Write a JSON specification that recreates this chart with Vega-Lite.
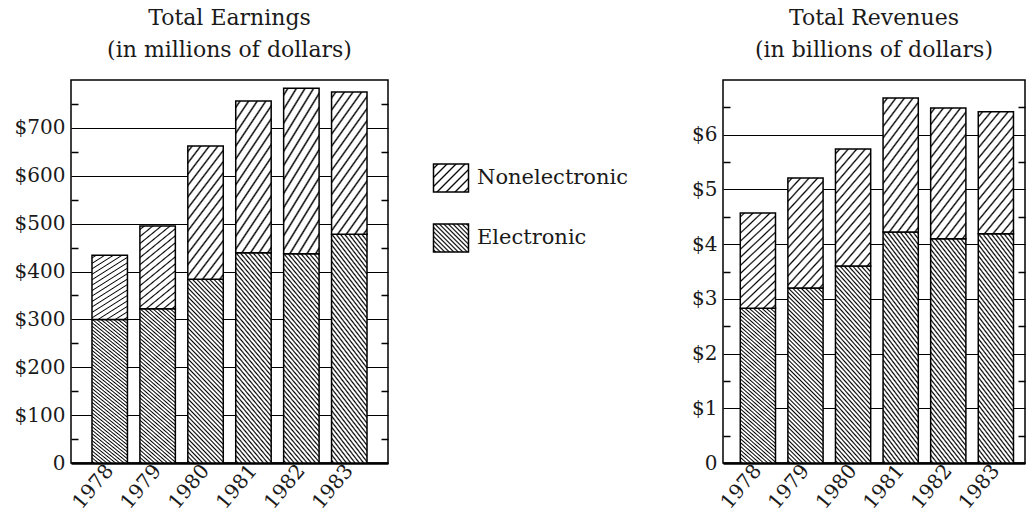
{
"$schema": "https://vega.github.io/schema/vega-lite/v6.json",
"background": "white",
"padding": {"left": 13, "top": 6, "right": 0, "bottom": 0},
"bounds": "flush",
"spacing": 335,
"params": [
{"name": "gN", "value": {"gradient": "linear", "x1": 0, "y1": 0, "x2": 0.4235, "y2": 1.21, "stops": [
{"offset":0.01875,"color":"#fff"},{"offset":0.03125,"color":"#000"},{"offset":0.04375,"color":"#fff"},
{"offset":0.08125,"color":"#fff"},{"offset":0.09375,"color":"#000"},{"offset":0.10625,"color":"#fff"},
{"offset":0.14375,"color":"#fff"},{"offset":0.15625,"color":"#000"},{"offset":0.16875,"color":"#fff"},
{"offset":0.20625,"color":"#fff"},{"offset":0.21875,"color":"#000"},{"offset":0.23125,"color":"#fff"},
{"offset":0.26875,"color":"#fff"},{"offset":0.28125,"color":"#000"},{"offset":0.29375,"color":"#fff"},
{"offset":0.33125,"color":"#fff"},{"offset":0.34375,"color":"#000"},{"offset":0.35625,"color":"#fff"},
{"offset":0.39375,"color":"#fff"},{"offset":0.40625,"color":"#000"},{"offset":0.41875,"color":"#fff"},
{"offset":0.45625,"color":"#fff"},{"offset":0.46875,"color":"#000"},{"offset":0.48125,"color":"#fff"},
{"offset":0.51875,"color":"#fff"},{"offset":0.53125,"color":"#000"},{"offset":0.54375,"color":"#fff"},
{"offset":0.58125,"color":"#fff"},{"offset":0.59375,"color":"#000"},{"offset":0.60625,"color":"#fff"},
{"offset":0.64375,"color":"#fff"},{"offset":0.65625,"color":"#000"},{"offset":0.66875,"color":"#fff"},
{"offset":0.70625,"color":"#fff"},{"offset":0.71875,"color":"#000"},{"offset":0.73125,"color":"#fff"},
{"offset":0.76875,"color":"#fff"},{"offset":0.78125,"color":"#000"},{"offset":0.79375,"color":"#fff"},
{"offset":0.83125,"color":"#fff"},{"offset":0.84375,"color":"#000"},{"offset":0.85625,"color":"#fff"},
{"offset":0.89375,"color":"#fff"},{"offset":0.90625,"color":"#000"},{"offset":0.91875,"color":"#fff"},
{"offset":0.95625,"color":"#fff"},{"offset":0.96875,"color":"#000"},{"offset":0.98125,"color":"#fff"}
]}},
{"name": "gE", "value": {"gradient": "linear", "x1": 0, "y1": 1, "x2": 0.232, "y2": -0.16, "stops": [
{"offset":0.003,"color":"#fff"},{"offset":0.01,"color":"#000"},{"offset":0.017,"color":"#fff"},
{"offset":0.023,"color":"#fff"},{"offset":0.03,"color":"#000"},{"offset":0.037,"color":"#fff"},
{"offset":0.043,"color":"#fff"},{"offset":0.05,"color":"#000"},{"offset":0.057,"color":"#fff"},
{"offset":0.063,"color":"#fff"},{"offset":0.07,"color":"#000"},{"offset":0.077,"color":"#fff"},
{"offset":0.083,"color":"#fff"},{"offset":0.09,"color":"#000"},{"offset":0.097,"color":"#fff"},
{"offset":0.103,"color":"#fff"},{"offset":0.11,"color":"#000"},{"offset":0.117,"color":"#fff"},
{"offset":0.123,"color":"#fff"},{"offset":0.13,"color":"#000"},{"offset":0.137,"color":"#fff"},
{"offset":0.143,"color":"#fff"},{"offset":0.15,"color":"#000"},{"offset":0.157,"color":"#fff"},
{"offset":0.163,"color":"#fff"},{"offset":0.17,"color":"#000"},{"offset":0.177,"color":"#fff"},
{"offset":0.183,"color":"#fff"},{"offset":0.19,"color":"#000"},{"offset":0.197,"color":"#fff"},
{"offset":0.203,"color":"#fff"},{"offset":0.21,"color":"#000"},{"offset":0.217,"color":"#fff"},
{"offset":0.223,"color":"#fff"},{"offset":0.23,"color":"#000"},{"offset":0.237,"color":"#fff"},
{"offset":0.243,"color":"#fff"},{"offset":0.25,"color":"#000"},{"offset":0.257,"color":"#fff"},
{"offset":0.263,"color":"#fff"},{"offset":0.27,"color":"#000"},{"offset":0.277,"color":"#fff"},
{"offset":0.283,"color":"#fff"},{"offset":0.29,"color":"#000"},{"offset":0.297,"color":"#fff"},
{"offset":0.303,"color":"#fff"},{"offset":0.31,"color":"#000"},{"offset":0.317,"color":"#fff"},
{"offset":0.323,"color":"#fff"},{"offset":0.33,"color":"#000"},{"offset":0.337,"color":"#fff"},
{"offset":0.343,"color":"#fff"},{"offset":0.35,"color":"#000"},{"offset":0.357,"color":"#fff"},
{"offset":0.363,"color":"#fff"},{"offset":0.37,"color":"#000"},{"offset":0.377,"color":"#fff"},
{"offset":0.383,"color":"#fff"},{"offset":0.39,"color":"#000"},{"offset":0.397,"color":"#fff"},
{"offset":0.403,"color":"#fff"},{"offset":0.41,"color":"#000"},{"offset":0.417,"color":"#fff"},
{"offset":0.423,"color":"#fff"},{"offset":0.43,"color":"#000"},{"offset":0.437,"color":"#fff"},
{"offset":0.443,"color":"#fff"},{"offset":0.45,"color":"#000"},{"offset":0.457,"color":"#fff"},
{"offset":0.463,"color":"#fff"},{"offset":0.47,"color":"#000"},{"offset":0.477,"color":"#fff"},
{"offset":0.483,"color":"#fff"},{"offset":0.49,"color":"#000"},{"offset":0.497,"color":"#fff"},
{"offset":0.503,"color":"#fff"},{"offset":0.51,"color":"#000"},{"offset":0.517,"color":"#fff"},
{"offset":0.523,"color":"#fff"},{"offset":0.53,"color":"#000"},{"offset":0.537,"color":"#fff"},
{"offset":0.543,"color":"#fff"},{"offset":0.55,"color":"#000"},{"offset":0.557,"color":"#fff"},
{"offset":0.563,"color":"#fff"},{"offset":0.57,"color":"#000"},{"offset":0.577,"color":"#fff"},
{"offset":0.583,"color":"#fff"},{"offset":0.59,"color":"#000"},{"offset":0.597,"color":"#fff"},
{"offset":0.603,"color":"#fff"},{"offset":0.61,"color":"#000"},{"offset":0.617,"color":"#fff"},
{"offset":0.623,"color":"#fff"},{"offset":0.63,"color":"#000"},{"offset":0.637,"color":"#fff"},
{"offset":0.643,"color":"#fff"},{"offset":0.65,"color":"#000"},{"offset":0.657,"color":"#fff"},
{"offset":0.663,"color":"#fff"},{"offset":0.67,"color":"#000"},{"offset":0.677,"color":"#fff"},
{"offset":0.683,"color":"#fff"},{"offset":0.69,"color":"#000"},{"offset":0.697,"color":"#fff"},
{"offset":0.703,"color":"#fff"},{"offset":0.71,"color":"#000"},{"offset":0.717,"color":"#fff"},
{"offset":0.723,"color":"#fff"},{"offset":0.73,"color":"#000"},{"offset":0.737,"color":"#fff"},
{"offset":0.743,"color":"#fff"},{"offset":0.75,"color":"#000"},{"offset":0.757,"color":"#fff"},
{"offset":0.763,"color":"#fff"},{"offset":0.77,"color":"#000"},{"offset":0.777,"color":"#fff"},
{"offset":0.783,"color":"#fff"},{"offset":0.79,"color":"#000"},{"offset":0.797,"color":"#fff"},
{"offset":0.803,"color":"#fff"},{"offset":0.81,"color":"#000"},{"offset":0.817,"color":"#fff"},
{"offset":0.823,"color":"#fff"},{"offset":0.83,"color":"#000"},{"offset":0.837,"color":"#fff"},
{"offset":0.843,"color":"#fff"},{"offset":0.85,"color":"#000"},{"offset":0.857,"color":"#fff"},
{"offset":0.863,"color":"#fff"},{"offset":0.87,"color":"#000"},{"offset":0.877,"color":"#fff"},
{"offset":0.883,"color":"#fff"},{"offset":0.89,"color":"#000"},{"offset":0.897,"color":"#fff"},
{"offset":0.903,"color":"#fff"},{"offset":0.91,"color":"#000"},{"offset":0.917,"color":"#fff"},
{"offset":0.923,"color":"#fff"},{"offset":0.93,"color":"#000"},{"offset":0.937,"color":"#fff"},
{"offset":0.943,"color":"#fff"},{"offset":0.95,"color":"#000"},{"offset":0.957,"color":"#fff"},
{"offset":0.963,"color":"#fff"},{"offset":0.97,"color":"#000"},{"offset":0.977,"color":"#fff"},
{"offset":0.983,"color":"#fff"},{"offset":0.99,"color":"#000"},{"offset":0.997,"color":"#fff"}
]}},
{"name": "gLN", "value": {"gradient": "linear", "x1": 0, "y1": 0, "x2": 1.1, "y2": 0.88, "stops": [
{"offset":0.04286,"color":"#fff"},{"offset":0.07143,"color":"#000"},{"offset":0.1,"color":"#fff"},
{"offset":0.18571,"color":"#fff"},{"offset":0.21429,"color":"#000"},{"offset":0.24286,"color":"#fff"},
{"offset":0.32857,"color":"#fff"},{"offset":0.35714,"color":"#000"},{"offset":0.38571,"color":"#fff"},
{"offset":0.47143,"color":"#fff"},{"offset":0.5,"color":"#000"},{"offset":0.52857,"color":"#fff"},
{"offset":0.61429,"color":"#fff"},{"offset":0.64286,"color":"#000"},{"offset":0.67143,"color":"#fff"},
{"offset":0.75714,"color":"#fff"},{"offset":0.78571,"color":"#000"},{"offset":0.81429,"color":"#fff"},
{"offset":0.9,"color":"#fff"},{"offset":0.92857,"color":"#000"},{"offset":0.95714,"color":"#fff"}
]}},
{"name": "gLE", "value": {"gradient": "linear", "x1": 0, "y1": 1, "x2": 1.1, "y2": 0.12, "stops": [
{"offset":0.01071,"color":"#fff"},{"offset":0.03571,"color":"#000"},{"offset":0.06071,"color":"#fff"},
{"offset":0.08214,"color":"#fff"},{"offset":0.10714,"color":"#000"},{"offset":0.13214,"color":"#fff"},
{"offset":0.15357,"color":"#fff"},{"offset":0.17857,"color":"#000"},{"offset":0.20357,"color":"#fff"},
{"offset":0.225,"color":"#fff"},{"offset":0.25,"color":"#000"},{"offset":0.275,"color":"#fff"},
{"offset":0.29643,"color":"#fff"},{"offset":0.32143,"color":"#000"},{"offset":0.34643,"color":"#fff"},
{"offset":0.36786,"color":"#fff"},{"offset":0.39286,"color":"#000"},{"offset":0.41786,"color":"#fff"},
{"offset":0.43929,"color":"#fff"},{"offset":0.46429,"color":"#000"},{"offset":0.48929,"color":"#fff"},
{"offset":0.51071,"color":"#fff"},{"offset":0.53571,"color":"#000"},{"offset":0.56071,"color":"#fff"},
{"offset":0.58214,"color":"#fff"},{"offset":0.60714,"color":"#000"},{"offset":0.63214,"color":"#fff"},
{"offset":0.65357,"color":"#fff"},{"offset":0.67857,"color":"#000"},{"offset":0.70357,"color":"#fff"},
{"offset":0.725,"color":"#fff"},{"offset":0.75,"color":"#000"},{"offset":0.775,"color":"#fff"},
{"offset":0.79643,"color":"#fff"},{"offset":0.82143,"color":"#000"},{"offset":0.84643,"color":"#fff"},
{"offset":0.86786,"color":"#fff"},{"offset":0.89286,"color":"#000"},{"offset":0.91786,"color":"#fff"},
{"offset":0.93929,"color":"#fff"},{"offset":0.96429,"color":"#000"},{"offset":0.98929,"color":"#fff"}
]}}
],
"datasets": {
"earnings": [
{"year": "1978", "type": "Electronic", "value": 300},
{"year": "1978", "type": "Nonelectronic", "value": 134},
{"year": "1979", "type": "Electronic", "value": 322},
{"year": "1979", "type": "Nonelectronic", "value": 173},
{"year": "1980", "type": "Electronic", "value": 384},
{"year": "1980", "type": "Nonelectronic", "value": 278},
{"year": "1981", "type": "Electronic", "value": 439},
{"year": "1981", "type": "Nonelectronic", "value": 317},
{"year": "1982", "type": "Electronic", "value": 437},
{"year": "1982", "type": "Nonelectronic", "value": 346},
{"year": "1983", "type": "Electronic", "value": 478},
{"year": "1983", "type": "Nonelectronic", "value": 297}
],
"revenues": [
{"year": "1978", "type": "Electronic", "value": 2.83},
{"year": "1978", "type": "Nonelectronic", "value": 1.74},
{"year": "1979", "type": "Electronic", "value": 3.2},
{"year": "1979", "type": "Nonelectronic", "value": 2.01},
{"year": "1980", "type": "Electronic", "value": 3.6},
{"year": "1980", "type": "Nonelectronic", "value": 2.14},
{"year": "1981", "type": "Electronic", "value": 4.22},
{"year": "1981", "type": "Nonelectronic", "value": 2.45},
{"year": "1982", "type": "Electronic", "value": 4.1},
{"year": "1982", "type": "Nonelectronic", "value": 2.39},
{"year": "1983", "type": "Electronic", "value": 4.19},
{"year": "1983", "type": "Nonelectronic", "value": 2.23}
]
},
"config": {
"font": "DejaVu Serif",
"view": {"stroke": "#000", "strokeWidth": 1.5},
"title": {"font": "DejaVu Serif", "fontSize": 22, "fontWeight": "normal", "color": "#1a1a1a", "lineHeight": 32, "offset": 18, "anchor": "middle"},
"axisX": {"title": null, "labelAngle": -50, "labelFont": "DejaVu Serif", "labelFontSize": 20, "labelColor": "#1a1a1a", "ticks": false, "domainColor": "#000", "domainWidth": 2.5, "labelPadding": 4, "grid": false},
"axisY": {"title": null, "labelFont": "DejaVu Serif", "labelFontSize": 20, "labelColor": "#1a1a1a", "domain": false, "tickColor": "#000", "tickWidth": 1.5, "gridColor": "#000", "gridWidth": 1.2}
},
"resolve": {"scale": {"x": "independent", "y": "independent", "color": "independent"}, "legend": {"color": "independent"}},
"hconcat": [
{
"width": 317, "height": 383,
"title": {"text": ["Total Earnings", "(in millions of dollars)"]},
"data": {"name": "earnings"},
"layer": [
{"mark": {"type": "bar", "stroke": "#000", "strokeWidth": 1.5},
"encoding": {
"x": {"field": "year", "type": "ordinal", "scale": {"paddingInner": 0.26, "paddingOuter": 0.438}},
"y": {"field": "value", "type": "quantitative", "stack": "zero", "scale": {"domain": [0, 800], "nice": false},
"axis": {"orient": "left", "values": [0,50,100,150,200,250,300,350,400,450,500,550,600,650,700,750],
"labelExpr": "datum.value % 100 == 0 ? (datum.value == 0 ? '0' : '$' + datum.value) : ''",
"tickSize": -7, "labelPadding": 13,
"tickOpacity": {"condition": {"test": "datum.value % 100 != 0", "value": 1}, "value": 0},
"grid": true,
"gridOpacity": {"condition": {"test": "datum.value % 100 == 0", "value": 1}, "value": 0}}},
"color": {"field": "type", "type": "nominal",
"scale": {"domain": ["Nonelectronic", "Electronic"], "range": [{"expr": "gN"}, {"expr": "gE"}]},
"legend": null},
"order": {"field": "type", "sort": "ascending"}
}},
{"mark": {"type": "rule", "opacity": 0},
"encoding": {
"y": {"field": "value", "type": "quantitative", "scale": {"domain": [0, 800], "nice": false},
"axis": {"orient": "right", "values": [50,150,250,350,450,550,650,750], "labels": false, "grid": false, "tickSize": -7}}
}},
{"transform": [{"filter": "false"}],
"mark": {"type": "bar", "stroke": "#000", "strokeWidth": 1.5},
"encoding": {
"fill": {"field": "type", "type": "nominal",
"scale": {"domain": ["Nonelectronic", "Electronic"], "range": [{"expr": "gLN"}, {"expr": "gLE"}]},
"legend": {"title": null, "orient": "none", "legendX": 365, "legendY": 83, "padding": 0,
"symbolType": "M-1.25,-1H1.25V1H-1.25Z", "symbolSize": 784, "symbolStrokeColor": "#000", "symbolStrokeWidth": 1.5, "symbolOpacity": 1,
"labelFont": "DejaVu Serif", "labelFontSize": 21, "labelColor": "#1a1a1a", "labelOffset": 11, "rowPadding": 26}}
}}
],
"resolve": {"axis": {"y": "independent"}}
},
{
"width": 302, "height": 383,
"title": {"text": ["Total Revenues", "(in billions of dollars)"]},
"data": {"name": "revenues"},
"layer": [
{"mark": {"type": "bar", "stroke": "#000", "strokeWidth": 1.5},
"encoding": {
"x": {"field": "year", "type": "ordinal", "scale": {"paddingInner": 0.26, "paddingOuter": 0.3025, "align": 0.6}},
"y": {"field": "value", "type": "quantitative", "stack": "zero", "scale": {"domain": [0, 7], "nice": false},
"axis": {"orient": "left", "values": [0,0.5,1,1.5,2,2.5,3,3.5,4,4.5,5,5.5,6,6.5],
"labelExpr": "datum.value % 1 == 0 ? (datum.value == 0 ? '0' : '$' + datum.value) : ''",
"tickSize": -7, "labelPadding": 13,
"tickOpacity": {"condition": {"test": "datum.value % 1 != 0", "value": 1}, "value": 0},
"grid": true,
"gridOpacity": {"condition": {"test": "datum.value % 1 == 0", "value": 1}, "value": 0}}},
"color": {"field": "type", "type": "nominal",
"scale": {"domain": ["Nonelectronic", "Electronic"], "range": [{"expr": "gN"}, {"expr": "gE"}]},
"legend": null},
"order": {"field": "type", "sort": "ascending"}
}},
{"mark": {"type": "rule", "opacity": 0},
"encoding": {
"y": {"field": "value", "type": "quantitative", "scale": {"domain": [0, 7], "nice": false},
"axis": {"orient": "right", "values": [0.5,1.5,2.5,3.5,4.5,5.5,6.5], "labels": false, "grid": false, "tickSize": -7}}
}}
],
"resolve": {"axis": {"y": "independent"}}
}
]
}
